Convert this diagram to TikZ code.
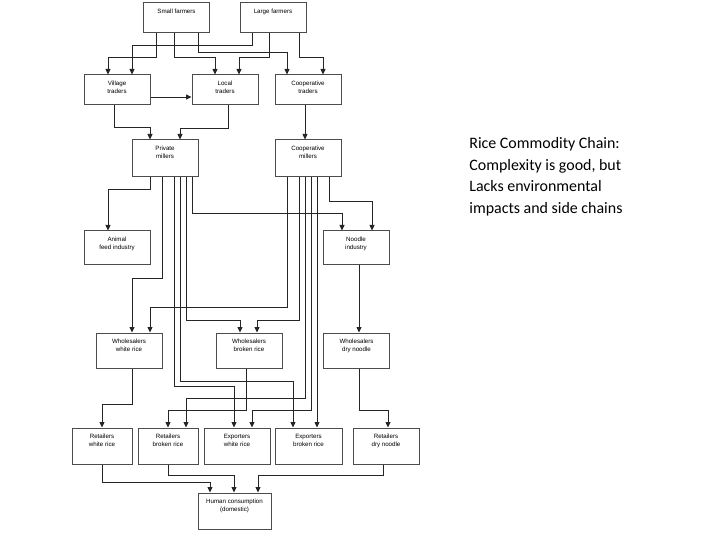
\documentclass[tikz,border=0pt]{standalone}
\usepackage{fontspec}
\usepackage{tikz}
\usetikzlibrary{arrows.meta}
\newfontfamily\boxfont{Liberation Sans}
\newfontfamily\notefont{Carlito}

\begin{document}
\begin{tikzpicture}[x=1bp,y=-1bp,->,>={Triangle[length=5.5bp,width=5bp]},line width=0.8bp,draw=black!85]
            \tikzstyle{box}=[draw=black!70,line width=1bp,minimum width=66bp,minimum height=30bp,inner sep=0pt]
            \tikzstyle{txt}=[anchor=north,yshift=-6.3bp,inner sep=0pt,align=center,font=\boxfont\fontsize{6.2}{8}\selectfont]
            \useasboundingbox (0,0) rectangle (720,540);
            % producers and traders
            \node[box,label={[txt]north:Small farmers}]          (sf)  at (176.5,18) {};
            \node[box,label={[txt]north:Large farmers}]          (lf)  at (273,18)   {};
            \node[box,label={[txt]north:Village\\traders}]       (vt)  at (117,90)   {};
            \node[box,label={[txt]north:Local\\traders}]         (lt)  at (225,90)   {};
            \node[box,label={[txt]north:Cooperative\\traders}]   (ct)  at (308,90)   {};
            % millers
            \node[box,minimum height=37bp,label={[txt]north:Private\\millers}]     (pm) at (165,158.5) {};
            \node[box,minimum height=37bp,label={[txt]north:Cooperative\\millers}] (cm) at (308,158.5) {};
            \node[box,minimum height=33bp,label={[txt]north:Animal\\feed industry}] (af) at (117,247.5) {};
            \node[box,minimum height=33bp,label={[txt]north:Noodle\\industry}]      (ni) at (356,247.5) {};
            % wholesale
            \node[box,minimum height=35bp,label={[txt]north:Wholesalers\\white rice}]  (wwr) at (129,350.5)   {};
            \node[box,minimum height=35bp,label={[txt]north:Wholesalers\\broken rice}] (wbr) at (249,350.5)   {};
            \node[box,minimum height=35bp,label={[txt]north:Wholesalers\\dry noodle}]  (wdn) at (356.5,350.5) {};
            % retail and export
            \node[box,minimum width=60bp,minimum height=36bp,label={[txt]north:Retailers\\white rice}]  (rwr) at (102,446)   {};
            \node[box,minimum width=60bp,minimum height=36bp,label={[txt]north:Retailers\\broken rice}] (rbr) at (168,446)   {};
            \node[box,minimum height=36bp,label={[txt]north:Exporters\\white rice}]                   (ewr) at (237,446)   {};
            \node[box,minimum width=67bp,minimum height=36bp,label={[txt]north:Exporters\\broken rice}] (ebr) at (308.5,446) {};
            \node[box,minimum height=36bp,label={[txt]north:Retailers\\dry noodle}]                   (rdn) at (386,446)   {};
            \node[box,minimum width=73bp,minimum height=36bp,label={[txt]north:Human consumption\\(domestic)}] (hc) at (234.5,511) {};
            \node[anchor=north west,inner sep=0pt,align=left,font=\notefont\fontsize{16}{21.7}\selectfont] (note) at (469,137)
                {Rice Commodity Chain:\\Complexity is good, but\\Lacks environmental\\impacts and side chains};
            % farmers to traders
            \draw (sf.south -| 156,0) |- (108,57) -- (vt.north -| 108,0);
            \draw (lf.south -| 252,0) |- (132,45) -- (vt.north -| 132,0);
            \draw (sf.south -| 174,0) |- (215,57) -- (lt.north -| 215,0);
            \draw (lf.south -| 269,0) |- (239,57) -- (lt.north -| 239,0);
            \draw (sf.south -| 198,0) |- (287,52) -- (ct.north -| 287,0);
            \draw (lf.south -| 299,0) |- (323,57) -- (ct.north -| 323,0);
            \draw (vt.east |- 0,97) -- (lt.west |- 0,97);
            % traders to millers
            \draw (vt.south -| 114,0) |- (150,127) -- (pm.north -| 150,0);
            \draw (lt.south -| 228,0) |- (180,128) -- (pm.north -| 180,0);
            \draw (ct.south -| 305,0) -- (cm.north -| 305,0);
            % private millers
            \draw (pm.south -| 150,0) |- (108,189) -- (af.north -| 108,0);
            \draw (pm.south -| 162,0) |- (132,278) -- (wwr.north -| 132,0);
            \draw (pm.south -| 192,0) |- (342,213) -- (ni.north -| 342,0);
            \draw (pm.south -| 186,0) |- (240,320) -- (wbr.north -| 240,0);
            \draw (pm.south -| 174,0) |- (234,386) -- (ewr.north -| 234,0);
            \draw (pm.south -| 180,0) |- (293,381) -- (ebr.north -| 293,0);
            % cooperative millers
            \draw (cm.south -| 287,0) |- (150,307) -- (wwr.north -| 150,0);
            \draw (cm.south -| 299,0) |- (257,320) -- (wbr.north -| 257,0);
            \draw (cm.south -| 329,0) |- (372,201) -- (ni.north -| 372,0);
            \draw (cm.south -| 305,0) |- (186,398) -- (rbr.north -| 186,0);
            \draw (cm.south -| 311,0) |- (252,410) -- (ewr.north -| 252,0);
            \draw (cm.south -| 317,0) -- (ebr.north -| 317,0);
            % wholesale to retail
            \draw (ni.south -| 359,0) -- (wdn.north -| 359,0);
            \draw (wwr.south -| 132,0) |- (102,404) -- (rwr.north -| 102,0);
            \draw (wbr.south -| 246,0) |- (168,410) -- (rbr.north -| 168,0);
            \draw (wdn.south -| 359,0) |- (388,410) -- (rdn.north -| 388,0);
            % consumption
            \draw (rwr.south -| 102,0) |- (210,482) -- (hc.north -| 210,0);
            \draw (rbr.south -| 168,0) |- (234,475) -- (hc.north -| 234,0);
            \draw (rdn.south -| 383,0) |- (258,475) -- (hc.north -| 258,0);
        \end{tikzpicture}
\end{document}
